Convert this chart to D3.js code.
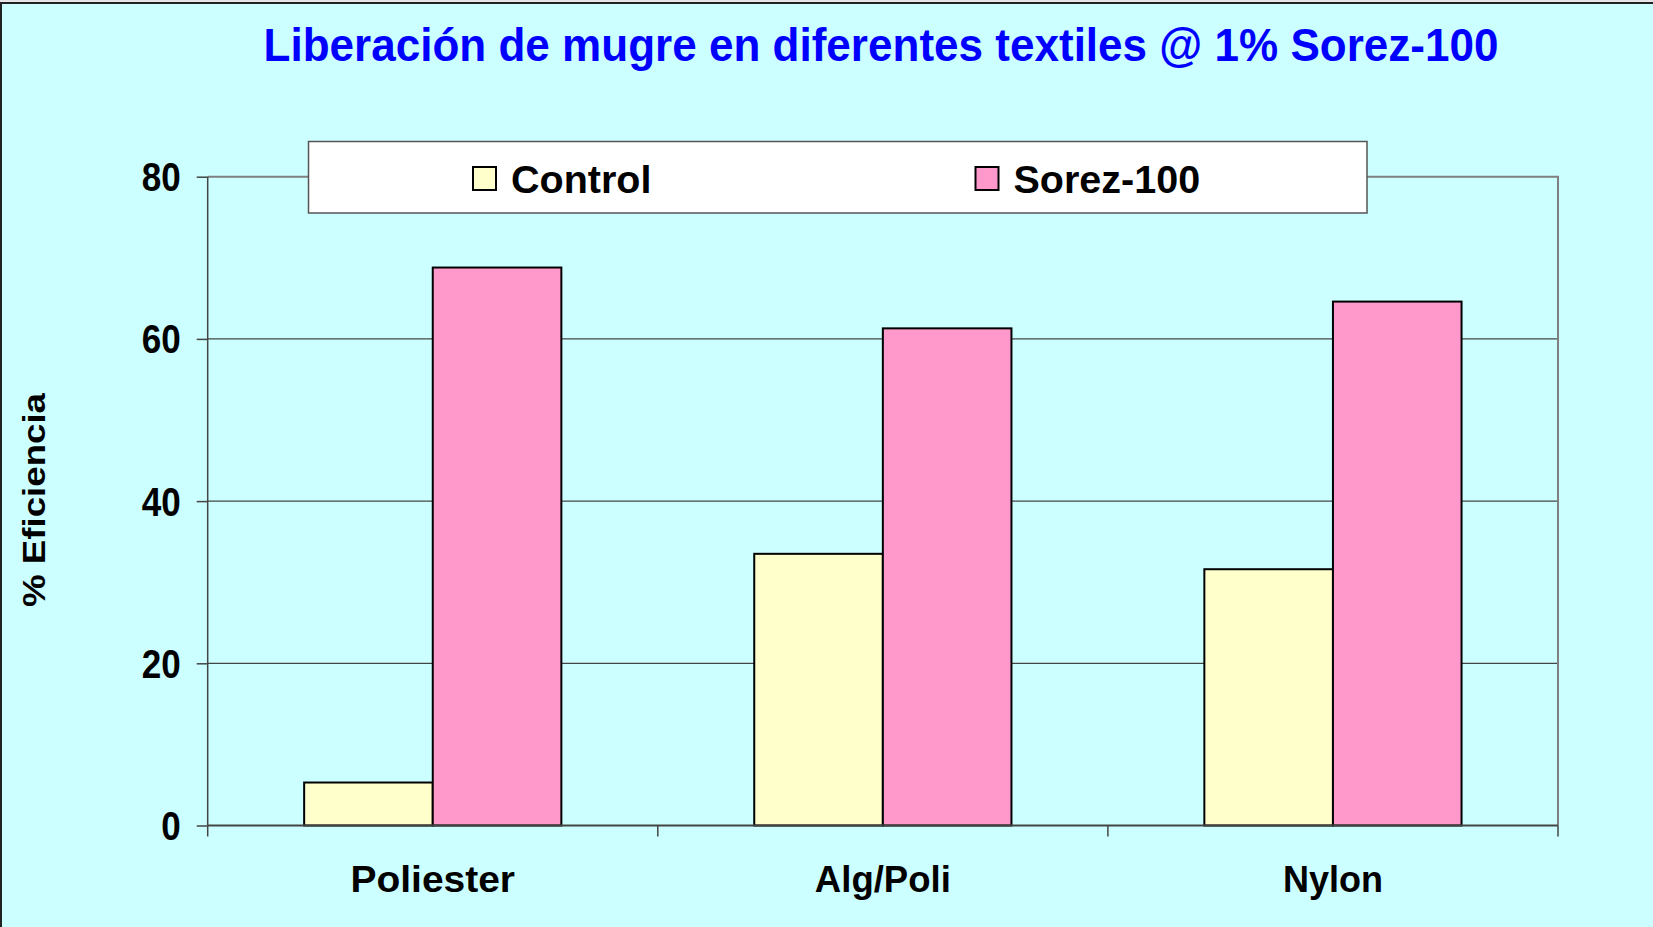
<!DOCTYPE html>
<html>
<head>
<meta charset="utf-8">
<script src="https://cdn.jsdelivr.net/npm/d3@7"></script>
<style>
  body { margin: 0; background: #e8e4e8; }
  svg { display: block; }
  text { font-family: "Liberation Sans", Arial, sans-serif; font-weight: bold; }
</style>
</head>
<body>
<div id="chart"></div>
<script>
// chart data
var categories = ["Poliester", "Alg/Poli", "Nylon"];
var seriesNames = ["Control", "Sorez-100"];
var controlValues = [5.3, 33.5, 31.6];
var sorezValues = [68.8, 61.3, 64.6];
var yTicks = [0, 20, 40, 60, 80];
var titleText = "Liberación de mugre en diferentes textiles @ 1% Sorez-100";
var yLabel = "% Eficiencia";

var colors = {"Control": "#FFFFCC", "Sorez-100": "#FF99CC"};
// rendered widths of the category labels in the original
var catLabelWidths = [164.5, 136, 100];

var width = 1653, height = 927;
var margin = {top: 176.7, right: 95, bottom: 101.5, left: 207.7};

var svg = d3.select("#chart").append("svg")
    .attr("width", width)
    .attr("height", height);

// slide background + frame
svg.append("rect")
    .attr("x", 1).attr("y", 3)
    .attr("width", width).attr("height", height)
    .attr("fill", "#CCFFFF");
svg.append("path")
    .attr("d", "M1," + height + "V3H" + width)
    .attr("fill", "none")
    .attr("stroke", "#222")
    .attr("stroke-width", 2);

var plotW = width - margin.left - margin.right;
var plotH = height - margin.top - margin.bottom;

var x0 = d3.scaleBand()
    .domain(categories)
    .range([0, plotW]);

// gap between groups is 150% of a bar
var barW = x0.bandwidth() / 3.5;
var x1 = d3.scaleBand()
    .domain(seriesNames)
    .range([barW * 0.75, barW * 2.75]);

var y = d3.scaleLinear()
    .domain([0, 80])
    .range([plotH, 0]);

var g = svg.append("g")
    .attr("transform", "translate(" + margin.left + "," + margin.top + ")");

// gridlines
g.append("g").selectAll("line")
    .data(yTicks.filter(function(d){ return d > 0 && d < 80; }))
    .enter().append("line")
    .attr("x1", 0).attr("x2", plotW)
    .attr("y1", function(d){ return y(d); })
    .attr("y2", function(d){ return y(d); })
    .attr("stroke", "#444")
    .attr("stroke-width", 1.3);

// plot area border top & right
g.append("path")
    .attr("d", "M0," + y(80) + "H" + plotW + "V" + y(0))
    .attr("fill", "none")
    .attr("stroke", "#808080")
    .attr("stroke-width", 2);

// bars
var rows = categories.map(function(c, i){
    return [
        {cat: c, series: "Control", value: controlValues[i]},
        {cat: c, series: "Sorez-100", value: sorezValues[i]}
    ];
});

g.append("g").selectAll("g")
    .data(rows)
    .enter().append("g")
    .attr("transform", function(d){ return "translate(" + x0(d[0].cat) + ",0)"; })
    .selectAll("rect")
    .data(function(d){ return d; })
    .enter().append("rect")
    .attr("x", function(d){ return x1(d.series); })
    .attr("y", function(d){ return y(d.value); })
    .attr("width", x1.bandwidth())
    .attr("height", function(d){ return y(0) - y(d.value); })
    .attr("fill", function(d){ return colors[d.series]; })
    .attr("stroke", "#000")
    .attr("stroke-width", 2);

// y axis
var yAxis = d3.axisLeft(y)
    .tickValues(yTicks)
    .tickSize(11)
    .tickPadding(16);
var yAx = g.append("g").call(yAxis);
yAx.select(".domain").attr("stroke", "#444").attr("stroke-width", 1.5).attr("d", "M0," + y(80) + "V" + y(0));
yAx.selectAll(".tick line").attr("stroke", "#444").attr("stroke-width", 1.5);
yAx.selectAll(".tick text")
    .attr("fill", "#000")
    .style("font-size", "40px")
    .attr("dy", "0.35em")
    .attr("textLength", function(d){ return String(d).length * 19.5; })
    .attr("lengthAdjust", "spacingAndGlyphs");

// x axis with ticks at category boundaries
var xAx = g.append("g").attr("transform", "translate(0," + plotH + ")");
xAx.append("line")
    .attr("x1", 0).attr("x2", plotW)
    .attr("stroke", "#444").attr("stroke-width", 2);
var bounds = categories.map(function(c){ return x0(c); }).concat([plotW]);
xAx.selectAll("line.tk")
    .data(bounds)
    .enter().append("line")
    .attr("class", "tk")
    .attr("x1", function(d){ return d; })
    .attr("x2", function(d){ return d; })
    .attr("y1", 0).attr("y2", 11)
    .attr("stroke", "#444").attr("stroke-width", 1.5);
xAx.selectAll("text")
    .data(categories)
    .enter().append("text")
    .attr("x", function(d){ return x0(d) + x0.bandwidth() / 2; })
    .attr("y", 66)
    .attr("text-anchor", "middle")
    .style("font-size", "36px")
    .attr("textLength", function(d, i){ return catLabelWidths[i]; })
    .attr("lengthAdjust", "spacingAndGlyphs")
    .attr("fill", "#000")
    .text(function(d){ return d; });

// y axis label
svg.append("text")
    .attr("transform", "translate(45,500) rotate(-90)")
    .attr("text-anchor", "middle")
    .style("font-size", "31px")
    .attr("textLength", 214)
    .attr("lengthAdjust", "spacingAndGlyphs")
    .attr("fill", "#000")
    .text(yLabel);

// title
svg.append("text")
    .attr("x", 881)
    .attr("y", 61)
    .attr("text-anchor", "middle")
    .style("font-size", "46px")
    .attr("textLength", 1235)
    .attr("lengthAdjust", "spacingAndGlyphs")
    .attr("fill", "#0000FF")
    .text(titleText);

// legend
var legend = svg.append("g");
legend.append("rect")
    .attr("x", 308.5).attr("y", 141.5)
    .attr("width", 1058.5).attr("height", 71.5)
    .attr("fill", "#fff")
    .attr("stroke", "#555")
    .attr("stroke-width", 1.5);

var legendX = [473, 975.5];
var items = legend.selectAll("g.item")
    .data(seriesNames)
    .enter().append("g")
    .attr("class", "item")
    .attr("transform", function(d, i){ return "translate(" + legendX[i] + ",167)"; });
items.append("rect")
    .attr("width", 23).attr("height", 23)
    .attr("fill", function(d){ return colors[d]; })
    .attr("stroke", "#000")
    .attr("stroke-width", 2);
items.append("text")
    .attr("x", 38)
    .attr("y", 25.5)
    .style("font-size", "39.5px")
    .attr("fill", "#000")
    .text(function(d){ return d; });
</script>
</body>
</html>
